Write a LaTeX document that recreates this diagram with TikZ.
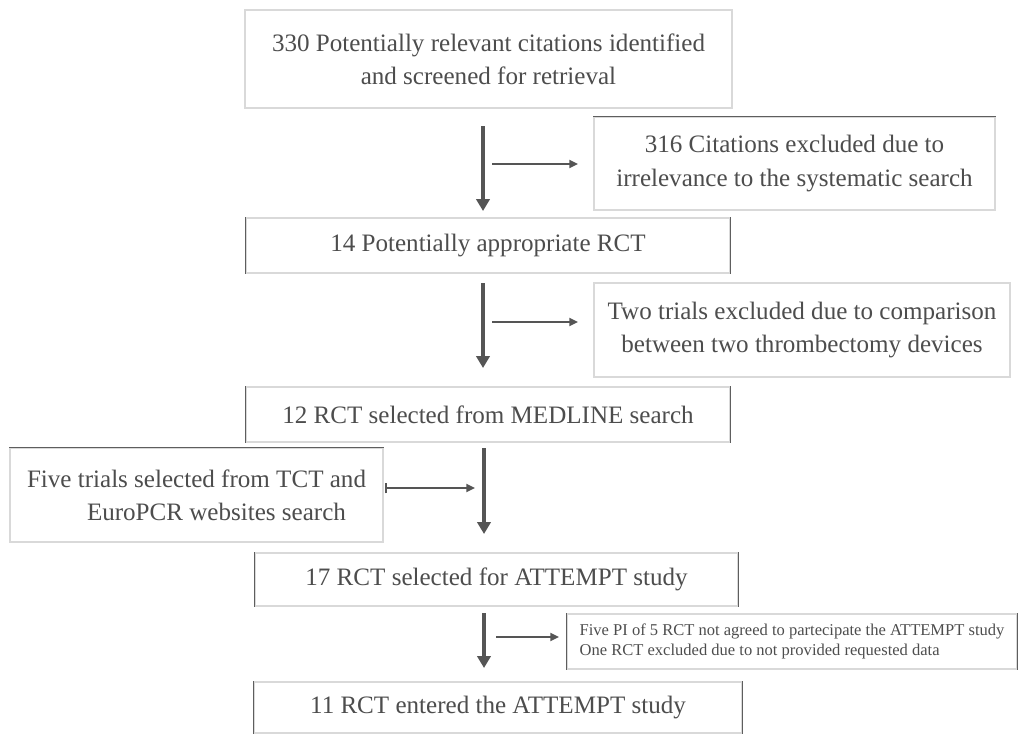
\documentclass[tikz,border=0pt]{standalone}
\usepackage{fontspec}
\setmainfont{Liberation Serif}
\usetikzlibrary{arrows.meta}
\definecolor{txt}{HTML}{4D4D4D}
\definecolor{faint}{HTML}{D9D9D9}
\definecolor{dark}{HTML}{5E5E5E}
\definecolor{arr}{HTML}{555555}
\begin{document}
\begin{tikzpicture}[x=0.75pt,y=-0.75pt,
  box/.style={draw=faint,line width=0.9pt,text=txt,font=\fontsize{18.8pt}{25pt}\selectfont,align=center,inner sep=0pt},
  smallbox/.style={box,font=\fontsize{12.4pt}{15pt}\selectfont,align=left},
  side/.style={draw=dark,line width=1.2pt},
  varr/.style={draw=arr,line width=3pt,-{Triangle[length=9pt,width=10pt]}},
  harr/.style={draw=arr,line width=1.4pt,-{Triangle[length=6.5pt,width=6pt]}},
  barr/.style={harr,{Bar[width=8pt,line width=1.4pt]}-{Triangle[length=6.5pt,width=6pt]}}]
\useasboundingbox[fill=white] (0,0) rectangle (1031,739);

% boxes
\node[box,minimum width=487*0.75pt,minimum height=98*0.75pt] (b1) at (488.5,59)
  {330 Potentially relevant citations identified\\and screened for retrieval};
\node[box,minimum width=401*0.75pt,minimum height=93*0.75pt] (b2) at (794.5,163.5)
  {316 Citations excluded due to\\irrelevance to the systematic search};
\node[box,minimum width=484*0.75pt,minimum height=55*0.75pt] (b3) at (488,245.5)
  {14 Potentially appropriate RCT};
\node[box,minimum width=416*0.75pt,minimum height=94*0.75pt] (b4) at (802,330)
  {Two trials excluded due to comparison\\between two thrombectomy devices};
\node[box,minimum width=484*0.75pt,minimum height=55*0.75pt] (b5) at (488,414.5)
  {12 RCT selected from MEDLINE search};
\node[box,align=left,minimum width=373*0.75pt,minimum height=94*0.75pt] (b6) at (196.5,495)
  {Five trials selected from TCT and\\\hspace*{45pt}EuroPCR websites search};
\node[box,minimum width=483*0.75pt,minimum height=53*0.75pt] (b7) at (496.5,579.5)
  {17 RCT selected for ATTEMPT study};
\node[smallbox,minimum width=450*0.75pt,minimum height=55*0.75pt] (b8) at (792,641.5)
  {Five PI of 5 RCT not agreed to partecipate the ATTEMPT study\\One RCT excluded due to not provided requested data};
\node[box,minimum width=488*0.75pt,minimum height=51*0.75pt] (b9) at (498,707.5)
  {11 RCT entered the ATTEMPT study};

% darker sides of the scanned boxes
\draw[side] (b2.north west) -- (b2.north east);
\draw[side] (b3.north west) -- (b3.south west);
\draw[side] (b3.north east) -- (b3.south east);
\draw[side] (b5.north west) -- (b5.south west);
\draw[side] (b5.north east) -- (b5.south east);
\draw[side] (b6.north west) -- (b6.north east);
\draw[side] (b7.north west) -- (b7.south west);
\draw[side] (b7.north east) -- (b7.south east);
\draw[side] (b8.north west) -- (b8.south west);
\draw[side] (b8.north east) -- (b8.south east);
\draw[side] (b9.north west) -- (b9.south west);
\draw[side] (b9.north east) -- (b9.south east);

% connector end points
\coordinate (v1s) at (483,126); \coordinate (v1e) at (483,211);
\coordinate (h1s) at (492,164); \coordinate (h1e) at (578,164);
\coordinate (v2s) at (483,283); \coordinate (v2e) at (483,368);
\coordinate (h2s) at (492,322); \coordinate (h2e) at (578,322);
\coordinate (v3s) at (484,448); \coordinate (v3e) at (484,534);
\coordinate (h3s) at (385,488); \coordinate (h3e) at (475,488);
\coordinate (v4s) at (484,613); \coordinate (v4e) at (484,668);
\coordinate (h4s) at (496,637); \coordinate (h4e) at (559,637);

\draw[varr] (v1s) -- (v1e);
\draw[harr] (h1s) -- (h1e);
\draw[varr] (v2s) -- (v2e);
\draw[harr] (h2s) -- (h2e);
\draw[varr] (v3s) -- (v3e);
\draw[barr] (h3s) -- (h3e);
\draw[varr] (v4s) -- (v4e);
\draw[harr] (h4s) -- (h4e);
\end{tikzpicture}
\end{document}
